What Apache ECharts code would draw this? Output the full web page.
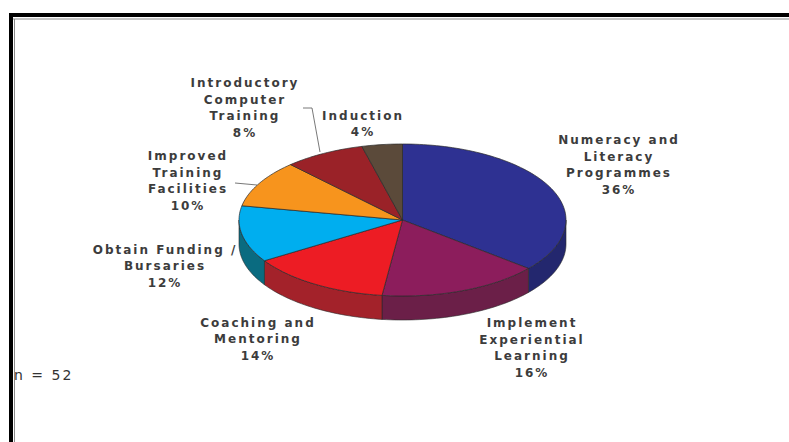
<!DOCTYPE html>
<html><head><meta charset="utf-8">
<script src="https://cdn.jsdelivr.net/npm/echarts@6/dist/echarts.min.js"></script>
<style>html,body{margin:0;padding:0;background:#fff}#c{width:789px;height:442px;letter-spacing:2px}</style>
</head><body><div id="c"></div>
<script>
// ---- data ----
const categories = ['Numeracy and\nLiteracy\nProgrammes', 'Implement\nExperiential\nLearning', 'Coaching and\nMentoring', 'Obtain Funding /\nBursaries', 'Improved\nTraining\nFacilities', 'Introductory\nComputer\nTraining', 'Induction'];
const values = [36, 16, 14, 12, 10, 8, 4];
const sampleNote = 'n = 52';

// ---- styles / layout ----
const topColors = ['#2e3192', '#8c1d5c', '#ed1c24', '#00aeef', '#f7941d', '#9a2228', '#5b4a3a'];
const sideColors = ['#23276e', '#6b1f48', '#a3222a', '#0a6b80', '#b86a12', '#6e171b', '#3f3328'];
const labelAt = [[619, 165], [532, 348], [258, 339], [165, 266], [188, 181], [245, 108], [363, 124]];
const G = { cx: 402.5, cy: 220, rx: 163.5, ry: 76, depth: 24 };

const total = values.reduce((a, b) => a + b, 0);
const starts = []; let acc = 0;
values.forEach(v => { starts.push(acc); acc += v; });

function pt(deg, dy) { const r = deg * Math.PI / 180; return [G.cx + G.rx * Math.sin(r), G.cy - G.ry * Math.cos(r) + (dy || 0)]; }
function arc(a, b, dy) { const pts = []; const n = Math.max(2, Math.ceil(Math.abs(b - a) / 1.5)); for (let i = 0; i <= n; i++) pts.push(pt(a + (b - a) * i / n, dy)); return pts; }
function angles(i, api) { const a = starts[i] / total * 360; const b = a + api.value(0) / total * 360; return [a, b]; }

const chart = echarts.init(document.getElementById('c'), null, { renderer: 'svg' });
const FONT = '"DejaVu Sans", sans-serif';
chart.setOption({
  animation: false,
  backgroundColor: '#ffffff',
  graphic: [
    { type: 'rect', shape: { x: 9, y: 13, width: 780, height: 4 }, style: { fill: '#000' } },
    { type: 'rect', shape: { x: 9, y: 13, width: 4, height: 429 }, style: { fill: '#000' } },
    { type: 'line', shape: { x1: 13, y1: 19, x2: 789, y2: 19 }, style: { stroke: '#8a8a8a', lineWidth: 1 } },
    { type: 'line', shape: { x1: 14.5, y1: 19, x2: 14.5, y2: 442 }, style: { stroke: '#8a8a8a', lineWidth: 1 } },
    { type: 'polyline', shape: { points: [[303, 108], [312, 108], [320, 152]] }, style: { stroke: '#555', lineWidth: 0.8, fill: null } },
    { type: 'polyline', shape: { points: [[235, 183], [257, 185]] }, style: { stroke: '#555', lineWidth: 0.8, fill: null } },
    { type: 'text', x: 14, y: 375, style: { text: sampleNote, font: '14px ' + FONT, fill: '#333', verticalAlign: 'middle', align: 'left' } }
  ],
  series: [
    {
      type: 'custom', coordinateSystem: 'none', z: 1, data: values,
      renderItem: function (params, api) {
        const i = params.dataIndex; const ab = angles(i, api);
        const s = Math.max(ab[0], 90), e = Math.min(ab[1], 270);
        if (s >= e) return { type: 'group', children: [] };
        return { type: 'polygon', shape: { points: arc(s, e, 0).concat(arc(e, s, G.depth)) },
          style: { fill: sideColors[i], stroke: '#2a2a2a', lineWidth: 0.6 } };
      }
    },
    {
      type: 'custom', coordinateSystem: 'none', z: 2, data: values,
      renderItem: function (params, api) {
        const i = params.dataIndex; const ab = angles(i, api);
        return { type: 'polygon', shape: { points: [[G.cx, G.cy]].concat(arc(ab[0], ab[1], 0)) },
          style: { fill: topColors[i], stroke: '#2a2a2a', lineWidth: 0.7 } };
      }
    },
    {
      type: 'custom', coordinateSystem: 'none', z: 3, data: values,
      renderItem: function (params, api) {
        const i = params.dataIndex;
        return { type: 'text', x: labelAt[i][0], y: labelAt[i][1],
          style: { text: categories[i] + '\n' + api.value(0) + '%', font: 'bold 12px ' + FONT, lineHeight: 16.5,
            fill: '#3c3c3c', align: 'center', verticalAlign: 'middle' } };
      }
    }
  ]
});
</script></body></html>
